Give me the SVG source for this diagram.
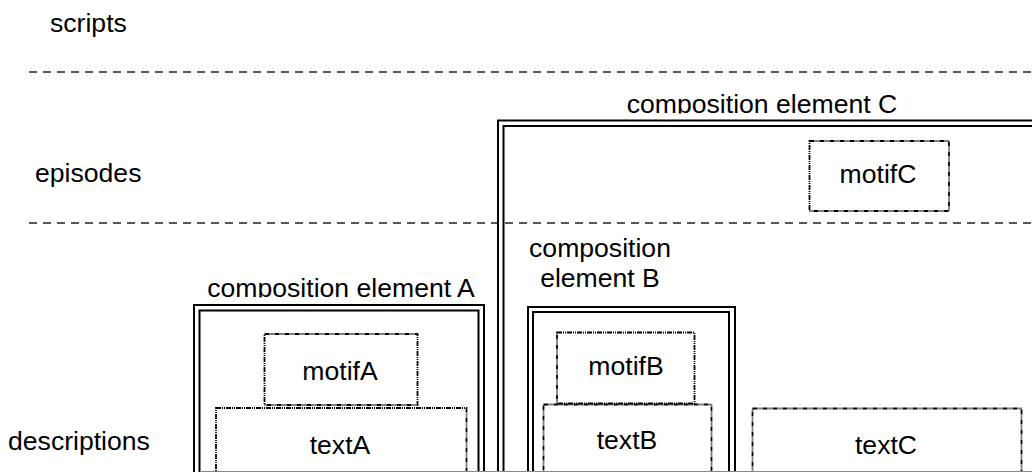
<svg xmlns="http://www.w3.org/2000/svg" width="1032" height="472" viewBox="0 0 1032 472">
  <style>
    text { font-family: "Liberation Sans", Arial, sans-serif; font-size: 26.6px; fill: #000; }
    .mid { text-anchor: middle; }
    .sep { stroke: #222; stroke-width: 1.3; stroke-dasharray: 8 6; fill: none; }
    .dbl { fill: none; stroke: #000; stroke-width: 2; }
    .dot { fill: none; stroke: #000; stroke-width: 1.8; stroke-dasharray: 5 1 1 1 1 1; }
  </style>
  <defs>
    <clipPath id="clipA"><rect x="180" y="260" width="320" height="37.5"/></clipPath>
    <clipPath id="clipC"><rect x="560" y="80" width="400" height="33.5"/></clipPath>
  </defs>
  <rect width="1032" height="472" fill="#fff"/>

  <g id="lanes">
    <text x="50" y="32">scripts</text>
    <line class="sep" x1="29" y1="72" x2="1032" y2="72"/>
    <text x="35" y="182">episodes</text>
    <line class="sep" x1="29" y1="223" x2="1032" y2="223"/>
    <text x="8" y="450">descriptions</text>
  </g>

  <g id="compC">
    <rect class="dbl" x="498" y="120.5" width="620" height="420"/>
    <rect class="dbl" x="503.5" y="126" width="620" height="420"/>
    <text class="mid" x="762" y="112.5" clip-path="url(#clipC)">composition element C</text>
  </g>

  <g id="compA">
    <rect class="dbl" x="194" y="305" width="290" height="220"/>
    <rect class="dbl" x="199.5" y="310.5" width="279" height="220"/>
    <text class="mid" x="341" y="296.5" clip-path="url(#clipA)">composition element A</text>
  </g>

  <g id="compB">
    <rect class="dbl" x="528" y="307" width="207" height="220"/>
    <rect class="dbl" x="533" y="312" width="196" height="220"/>
    <text class="mid" x="600" y="256.5">composition</text>
    <text class="mid" x="600" y="286.5">element B</text>
  </g>

  <g id="motifC">
    <rect class="dot" x="809.5" y="141" width="139.5" height="70"/>
    <text class="mid" x="878" y="182.5">motifC</text>
  </g>

  <g id="motifA">
    <rect class="dot" x="264.5" y="334" width="153" height="71"/>
    <text class="mid" x="340" y="380">motifA</text>
  </g>

  <g id="textA">
    <rect class="dot" x="216" y="408" width="250.5" height="100"/>
    <text class="mid" x="340" y="454">textA</text>
  </g>

  <g id="motifB">
    <rect class="dot" x="557" y="332.5" width="137.5" height="71"/>
    <text class="mid" x="626" y="375">motifB</text>
  </g>

  <g id="textB">
    <rect class="dot" x="543.5" y="404.5" width="168" height="100"/>
    <text class="mid" x="627" y="448.5">textB</text>
  </g>

  <g id="textC">
    <rect class="dot" x="752.5" y="408.5" width="269" height="100"/>
    <text class="mid" x="886" y="453.5">textC</text>
  </g>

  <g id="connectors"></g>

  <line x1="200" y1="471.5" x2="1032" y2="471.5" stroke="#888" stroke-width="1"/>
</svg>
